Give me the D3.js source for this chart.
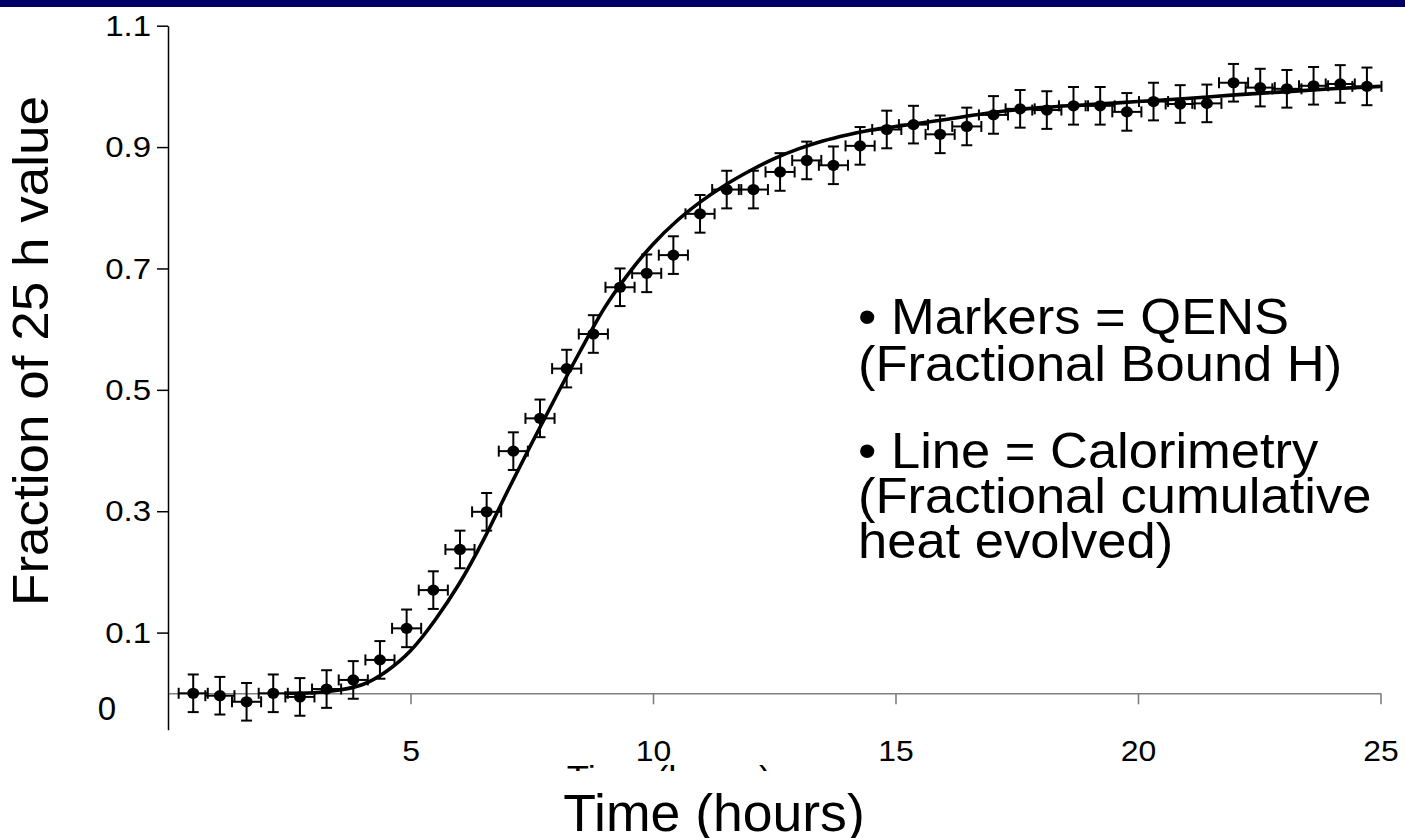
<!DOCTYPE html>
<html>
<head>
<meta charset="utf-8">
<script src="https://cdn.jsdelivr.net/npm/d3@7"></script>
<style>
  html, body { margin: 0; padding: 0; background: #fff; }
  svg { display: block; }
</style>
</head>
<body>
<svg id="chart" width="1405" height="838"></svg>
<script>
// QENS: fraction of bound H versus time (hours), with error bars
const qensTime = [0.52, 1.07, 1.62, 2.17, 2.72, 3.27, 3.82, 4.37, 4.92, 5.47,
  6.02, 6.57, 7.12, 7.67, 8.22, 8.77, 9.32, 9.87, 10.42, 10.97,
  11.52, 12.07, 12.62, 13.17, 13.72, 14.27, 14.82, 15.37, 15.92, 16.47,
  17.02, 17.57, 18.12, 18.67, 19.22, 19.77, 20.32, 20.87, 21.42, 21.97,
  22.52, 23.07, 23.62, 24.17, 24.72];
const qensFraction = [0.000, -0.004, -0.014, 0.000, -0.006, 0.007, 0.022, 0.055, 0.107, 0.170,
  0.237, 0.299, 0.399, 0.453, 0.535, 0.592, 0.669, 0.692, 0.722, 0.790,
  0.830, 0.830, 0.859, 0.878, 0.870, 0.902, 0.929, 0.937, 0.921, 0.934,
  0.953, 0.963, 0.961, 0.968, 0.968, 0.958, 0.975, 0.971, 0.972, 1.006,
  0.998, 0.996, 1.001, 1.004, 1.000];
const qensTimeErr = 0.3;
const qensFractionErr = 0.031;

// Calorimetry: fractional cumulative heat evolved
const calTime = [2.4, 3.0, 3.5, 4.0, 4.5, 5.0, 5.5, 6.0, 6.5, 7.0,
  7.5, 8.0, 8.5, 9.0, 9.5, 10.0, 10.5, 11.0, 11.5, 12.0,
  12.5, 13.0, 13.5, 14.0, 14.5, 15.0, 16.0, 17.0, 18.0, 19.0,
  20.0, 21.0, 22.0, 23.0, 24.0, 25.0];
const calFraction = [0.000, 0.001, 0.005, 0.014, 0.036, 0.070, 0.120, 0.180, 0.252, 0.333,
  0.412, 0.489, 0.564, 0.635, 0.692, 0.740, 0.779, 0.811, 0.838, 0.861,
  0.881, 0.897, 0.910, 0.920, 0.928, 0.934, 0.945, 0.957, 0.965, 0.970,
  0.975, 0.980, 0.986, 0.991, 0.996, 1.000];

const xTicks = [5, 10, 15, 20, 25];
const yTicks = [0.1, 0.3, 0.5, 0.7, 0.9, 1.1];

const legendLines = [
  { text: "\u2022 Markers = QENS", y: 334 },
  { text: "(Fractional Bound H)", y: 381 },
  { text: "\u2022 Line = Calorimetry", y: 468 },
  { text: "(Fractional cumulative", y: 513 },
  { text: "heat evolved)", y: 558 }
];

const FONT = "'Liberation Sans', Arial, Helvetica, sans-serif";
const TICK_STRETCH = 1.1;   // tick labels of the embedded chart are slightly wide
const CAPTION_STRETCH = 1.05;

const svg = d3.select("#chart");

// slide header band
svg.append("rect").attr("x", 0).attr("y", 0).attr("width", 1405).attr("height", 7)
  .attr("fill", "#000066");

const x = d3.scaleLinear().domain([0, 25]).range([168, 1380.5]);
const y = d3.scaleLinear().domain([-0.06, 1.1]).range([729.7, 25.7]);

// chart's own axis title, mostly hidden under the slide caption box
svg.append("text")
  .attr("transform", `translate(669,789) scale(${TICK_STRETCH},1)`)
  .attr("text-anchor", "middle")
  .attr("font-family", FONT).attr("font-size", 33)
  .text("Time (hours)");

// x axis
const xAxis = svg.append("g")
  .attr("transform", `translate(0,${y(0)})`)
  .call(d3.axisBottom(x).tickValues(xTicks).tickSize(11).tickSizeOuter(0));
xAxis.select(".domain").attr("stroke", "#7f7f7f").attr("stroke-width", 1.6);
xAxis.selectAll(".tick line").attr("stroke", "#7f7f7f").attr("stroke-width", 1.6);
xAxis.selectAll(".tick text")
  .attr("y", 68).attr("dy", null)
  .attr("transform", `scale(${TICK_STRETCH},1)`)
  .attr("fill", "#000")
  .attr("font-family", FONT).attr("font-size", 29);

// y axis
const yAxis = svg.append("g")
  .attr("transform", `translate(${x(0)},0)`)
  .call(d3.axisLeft(y).tickValues(yTicks).tickFormat(d3.format(".1f")).tickSize(11).tickSizeOuter(0));
yAxis.select(".domain").attr("stroke", "#000").attr("stroke-width", 1.5);
yAxis.selectAll(".tick line").attr("stroke", "#000").attr("stroke-width", 1.5);
yAxis.selectAll(".tick text")
  .attr("x", -17 / TICK_STRETCH)
  .attr("transform", `scale(${TICK_STRETCH},1)`)
  .attr("fill", "#000")
  .attr("font-family", FONT).attr("font-size", 30);

// zero label
svg.append("text")
  .attr("x", 107).attr("y", 720).attr("text-anchor", "middle")
  .attr("font-family", FONT).attr("font-size", 33)
  .text("0");

// QENS error bars and markers
const qens = qensTime.map((t, i) => ({ t, v: qensFraction[i] }));
const capH = 5.5, capV = 5.5;
const eb = svg.append("g").attr("stroke", "#000").attr("stroke-width", 2).attr("fill", "none");
qens.forEach(d => {
  const cx = x(d.t), cy = y(d.v);
  const yTop = y(d.v + qensFractionErr), yBot = y(d.v - qensFractionErr);
  const xL = x(d.t - qensTimeErr), xR = x(d.t + qensTimeErr);
  eb.append("line").attr("x1", cx).attr("x2", cx).attr("y1", yTop).attr("y2", yBot);
  eb.append("line").attr("x1", cx - capH).attr("x2", cx + capH).attr("y1", yTop).attr("y2", yTop);
  eb.append("line").attr("x1", cx - capH).attr("x2", cx + capH).attr("y1", yBot).attr("y2", yBot);
  eb.append("line").attr("x1", xL).attr("x2", xR).attr("y1", cy).attr("y2", cy);
  eb.append("line").attr("x1", xL).attr("x2", xL).attr("y1", cy - capV).attr("y2", cy + capV);
  eb.append("line").attr("x1", xR).attr("x2", xR).attr("y1", cy - capV).attr("y2", cy + capV);
});

svg.append("g").selectAll("ellipse").data(qens).join("ellipse")
  .attr("cx", d => x(d.t)).attr("cy", d => y(d.v))
  .attr("rx", 6).attr("ry", 5.6)
  .attr("fill", "#000");

// calorimetry line
const cal = calTime.map((t, i) => ({ t, v: calFraction[i] }));
svg.append("path").datum(cal)
  .attr("fill", "none").attr("stroke", "#000").attr("stroke-width", 3.6)
  .attr("stroke-linejoin", "round")
  .attr("d", d3.line().x(d => x(d.t)).y(d => y(d.v)).curve(d3.curveMonotoneX));

// slide caption box and captions
svg.append("rect").attr("x", 480).attr("y", 771).attr("width", 460).attr("height", 67).attr("fill", "#fff");

svg.append("text")
  .attr("transform", `translate(714,831) scale(${CAPTION_STRETCH},1)`)
  .attr("text-anchor", "middle")
  .attr("font-family", FONT).attr("font-size", 51)
  .text("Time (hours)");

svg.append("text")
  .attr("transform", "translate(48,351) rotate(-90)")
  .attr("text-anchor", "middle")
  .attr("font-family", FONT).attr("font-size", 50)
  .attr("textLength", 510).attr("lengthAdjust", "spacingAndGlyphs")
  .text("Fraction of 25 h value");

svg.append("g").selectAll("text").data(legendLines).join("text")
  .attr("transform", d => `translate(858,${d.y}) scale(${CAPTION_STRETCH},1)`)
  .attr("font-family", FONT).attr("font-size", 50)
  .text(d => d.text);
</script>
</body>
</html>
